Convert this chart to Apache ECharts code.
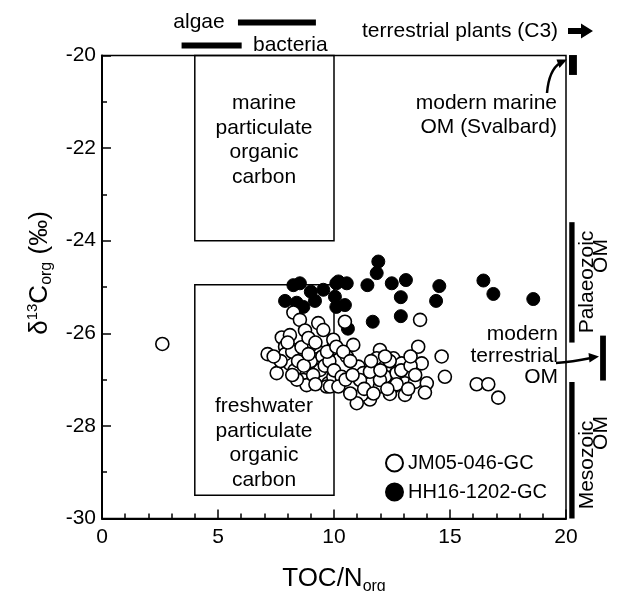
<!DOCTYPE html>
<html><head><meta charset="utf-8">
<script src="https://cdn.jsdelivr.net/npm/echarts@6/dist/echarts.min.js"></script>
<style>html,body{margin:0;padding:0;background:#fff}#c{width:617px;height:591px}</style>
</head><body><div id="c"></div>
<script>
// ---- data ----
const seriesNames = ['JM05-046-GC', 'HH16-1202-GC'];
const jm05 = [
  [2.6,-26.23],
  [8.25,-25.55],[8.53,-25.71],[9.32,-25.78],[9.54,-25.93],[8.75,-25.94],[7.75,-26.09],[8.10,-26.04],
  [7.89,-26.29],[7.14,-26.45],[8.39,-26.36],[8.53,-26.50],[9.25,-26.36],[9.25,-26.56],[8.97,-26.27],
  [9.94,-26.33],[8.10,-26.66],[7.53,-26.86],[8.79,-26.85],[9.40,-26.79],[8.68,-27.01],[8.82,-27.12],
  [9.75,-27.08],[9.68,-27.15],[9.97,-26.94],[7.90,-26.45],[8.20,-26.40],[8.60,-26.30],[9.00,-26.60],
  [9.50,-26.50],[8.30,-26.80],[9.10,-26.90],[9.60,-26.70],[8.00,-26.20],[8.90,-26.10],[9.80,-26.60],
  [10.00,-26.80],[7.70,-26.60],[8.45,-26.60],[9.20,-26.20],[8.70,-26.70],
  [8.40,-27.00],[9.20,-27.10],[8.90,-26.45],[9.70,-26.40],[7.40,-26.50],[8.20,-26.90],
  [10.47,-25.75],[13.71,-25.71],[9.97,-26.14],[10.10,-26.29],[10.83,-26.25],[10.55,-26.50],[11.98,-26.36],
  [11.84,-26.54],[12.56,-26.54],[12.92,-26.65],[13.63,-26.29],[13.78,-26.65],[14.64,-26.50],[12.20,-26.72],
  [11.05,-26.72],[11.26,-26.86],[10.33,-26.94],[11.12,-27.01],[12.20,-26.94],[12.70,-26.86],[13.13,-26.94],
  [12.56,-27.15],[11.98,-27.15],[13.06,-27.08],[13.49,-27.05],[14.00,-27.08],[13.92,-27.28],[13.06,-27.33],
  [12.41,-27.31],[11.55,-27.43],[11.19,-27.33],[10.98,-27.51],[9.83,-27.15],[10.19,-27.15],[14.78,-26.94],
  [16.15,-27.10],[16.65,-27.10],[17.08,-27.39],[11.98,-27.01],[11.55,-26.83],
  [12.40,-26.60],[12.90,-26.80],[13.30,-26.70],[11.60,-26.60],[12.00,-26.80],[13.50,-26.90],[12.70,-27.10],
  [11.30,-27.20],[10.70,-27.30],[10.50,-27.00],[10.80,-26.90],[13.20,-27.20],[12.30,-27.20],[11.70,-27.30],
  [10.40,-26.40],[10.70,-26.60],[12.20,-26.50],[13.30,-26.50]
];
const hh16 = [
  [8.25,-24.96],[8.53,-24.92],[7.89,-25.30],[8.39,-25.34],[8.68,-25.43],[9.18,-25.30],[9.54,-25.06],
  [9.00,-25.10],[10.10,-24.92],[10.19,-24.88],[10.55,-24.92],[10.04,-25.21],[10.47,-25.39],[10.10,-25.43],
  [11.91,-24.45],[11.84,-24.70],[11.44,-24.96],[12.49,-24.92],[13.10,-24.85],[12.88,-25.22],[14.54,-24.98],
  [14.40,-25.30],[11.67,-25.75],[12.88,-25.63],[16.44,-24.86],[16.87,-25.15],[18.59,-25.26],[10.60,-25.90]
];
// reference boxes: [xFrom, xTo, yFrom, yTo]
const boxes = [[4, 10, -20, -24], [4, 10, -24.95, -29.5]];
// reference ranges (filled bars): [xFrom, xTo, yFrom, yTo]
const rangeBars = [
  [5.86, 9.22, -19.22, -19.35],   // algae
  [3.43, 6.02, -19.72, -19.85],   // bacteria
  [20.13, 20.47, -19.99, -20.42], // modern marine OM (Svalbard)
  [20.14, 20.37, -23.60, -26.20], // Palaeozoic OM
  [21.47, 21.72, -26.05, -27.02], // modern terrestrial OM
  [20.14, 20.37, -27.05, -30.00]  // Mesozoic OM
];
const xTickStep = 5, yTickStep = 2;

// ---- chart ----
const FONT = '"Liberation Sans", Arial, sans-serif';
const chart = echarts.init(document.getElementById('c'), null, {renderer: 'canvas'});

function rectRender(filled) {
  return function (params, api) {
    const a = api.coord([api.value(0), api.value(2)]);
    const b = api.coord([api.value(1), api.value(3)]);
    return {
      type: 'rect',
      shape: {x: Math.min(a[0], b[0]), y: Math.min(a[1], b[1]),
              width: Math.abs(b[0] - a[0]), height: Math.abs(b[1] - a[1])},
      style: filled ? {fill: '#000', stroke: null} : {fill: 'none', stroke: '#000', lineWidth: 1.5}
    };
  };
}

const txt = (x, y, text, o) => ({
  type: 'text', x: x, y: y,
  style: Object.assign({text: text, fill: '#000', font: '21px ' + FONT,
    textAlign: 'left', textVerticalAlign: 'middle'}, o || {})
});

const option = {
  animation: false,
  backgroundColor: '#fff',
  textStyle: {fontFamily: FONT},
  grid: {left: 102, right: 51, top: 55.5, bottom: 72.5, show: true,
         borderColor: '#000', borderWidth: 1.5, containLabel: false, outerBoundsMode: 'none'},
  xAxis: {
    type: 'value', min: 0, max: 20, interval: xTickStep,
    name: 'TOC/N{sub|org}', nameLocation: 'middle', nameGap: 44,
    nameTextStyle: {fontSize: 26, color: '#000', fontFamily: FONT,
      rich: {sub: {fontSize: 16, padding: [16, 0, 0, 0], fontFamily: FONT, color: '#000'}}},
    axisLine: {lineStyle: {color: '#000', width: 2}},
    axisTick: {inside: true, length: 9, lineStyle: {color: '#000', width: 1.5}},
    minorTick: {show: true, splitNumber: 5, length: 5, lineStyle: {color: '#000', width: 1.5}},
    axisLabel: {fontSize: 21, color: '#000', margin: 8, fontFamily: FONT},
    splitLine: {show: false}
  },
  yAxis: {
    type: 'value', min: -30, max: -20, interval: yTickStep,
    axisLine: {lineStyle: {color: '#000', width: 2}},
    axisTick: {inside: true, length: 9, lineStyle: {color: '#000', width: 1.5}},
    minorTick: {show: true, splitNumber: 2, length: 5, lineStyle: {color: '#000', width: 1.5}},
    axisLabel: {fontSize: 21, color: '#000', margin: 6, fontFamily: FONT},
    splitLine: {show: false}
  },
  legend: {
    data: seriesNames, orient: 'vertical', left: 380, top: 448,
    itemWidth: 17, itemHeight: 17, itemGap: 9, icon: 'circle',
    textStyle: {fontSize: 20, color: '#000', fontFamily: FONT}, selectedMode: false
  },
  series: [
    {type: 'custom', name: 'boxes', data: boxes, renderItem: rectRender(false),
     clip: false, silent: true, encode: {x: [0, 1], y: [2, 3]}, z: 1},
    {type: 'custom', name: 'ranges', data: rangeBars, renderItem: rectRender(true),
     clip: false, silent: true, encode: {x: [0, 1], y: [2, 3]}, z: 1},
    {type: 'scatter', name: seriesNames[1], data: hh16, symbolSize: 13,
     itemStyle: {color: '#000', borderColor: '#000', borderWidth: 1, opacity: 1}, z: 3},
    {type: 'scatter', name: seriesNames[0], data: jm05, symbolSize: 13,
     itemStyle: {color: '#fff', borderColor: '#000', borderWidth: 1.6, opacity: 1}, z: 4}
  ],
  graphic: [
    // y axis title
    {type: 'text', x: 40, y: 273, rotation: Math.PI / 2,
     style: {text: 'δ{sup|13}C{sub|org} (‰)', fill: '#000', font: '26px ' + FONT,
       textAlign: 'center', textVerticalAlign: 'middle',
       rich: {sup: {fontSize: 15, padding: [0, 0, 14, 0], fill: '#000', fontFamily: FONT},
              sub: {fontSize: 16, padding: [14, 0, 0, 0], fill: '#000', fontFamily: FONT}}}},
    // box labels
    {type: 'text', x: 264, y: 140, z: 5,
     style: {text: 'marine\nparticulate\norganic\ncarbon', fill: '#000', font: '21px ' + FONT,
       textAlign: 'center', textVerticalAlign: 'middle', lineHeight: 24.5}},
    {type: 'text', x: 264, y: 443, z: 5,
     style: {text: 'freshwater\nparticulate\norganic\ncarbon', fill: '#000', font: '21px ' + FONT,
       textAlign: 'center', textVerticalAlign: 'middle', lineHeight: 24.5}},
    // top annotations
    txt(199, 22, 'algae', {textAlign: 'center'}),
    txt(253, 45, 'bacteria'),
    txt(362, 31, 'terrestrial plants (C3)'),
    {type: 'polygon', shape: {points: [[568, 28], [581, 28], [581, 23.5], [593, 31], [581, 38.5], [581, 34], [568, 34]]},
     style: {fill: '#000'}},
    // modern marine OM
    {type: 'text', x: 557, y: 115,
     style: {text: 'modern marine\nOM (Svalbard)', fill: '#000', font: '21px ' + FONT,
       textAlign: 'right', textVerticalAlign: 'middle', lineHeight: 24}},
    {type: 'bezierCurve', shape: {x1: 547, y1: 93, cpx1: 549, cpy1: 70, x2: 560, y2: 63},
     style: {stroke: '#000', lineWidth: 2.5, fill: null}},
    {type: 'polygon', shape: {points: [[567, 59.5], [559.5, 68], [556.5, 59.5]]}, style: {fill: '#000'}},
    // modern terrestrial OM
    {type: 'text', x: 558, y: 356,
     style: {text: 'modern\nterrestrial\nOM', fill: '#000', font: '21px ' + FONT,
       textAlign: 'right', textVerticalAlign: 'middle', lineHeight: 21.5}},
    {type: 'bezierCurve', shape: {x1: 556, y1: 363, cpx1: 572, cpy1: 362, x2: 591, y2: 358},
     style: {stroke: '#000', lineWidth: 2.5, fill: null}},
    {type: 'polygon', shape: {points: [[599, 356.5], [589.5, 362.5], [588.5, 353]]}, style: {fill: '#000'}},
    // rotated labels
    {type: 'text', x: 587, y: 282, rotation: Math.PI / 2,
     style: {text: 'Palaeozoic', fill: '#000', font: '21px ' + FONT, textAlign: 'center', textVerticalAlign: 'middle'}},
    {type: 'text', x: 601, y: 256, rotation: Math.PI / 2,
     style: {text: 'OM', fill: '#000', font: '21px ' + FONT, textAlign: 'center', textVerticalAlign: 'middle'}},
    {type: 'text', x: 587, y: 465, rotation: Math.PI / 2,
     style: {text: 'Mesozoic', fill: '#000', font: '21px ' + FONT, textAlign: 'center', textVerticalAlign: 'middle'}},
    {type: 'text', x: 601, y: 433, rotation: Math.PI / 2,
     style: {text: 'OM', fill: '#000', font: '21px ' + FONT, textAlign: 'center', textVerticalAlign: 'middle'}}
  ]
};
chart.setOption(option);
</script>
</body></html>
